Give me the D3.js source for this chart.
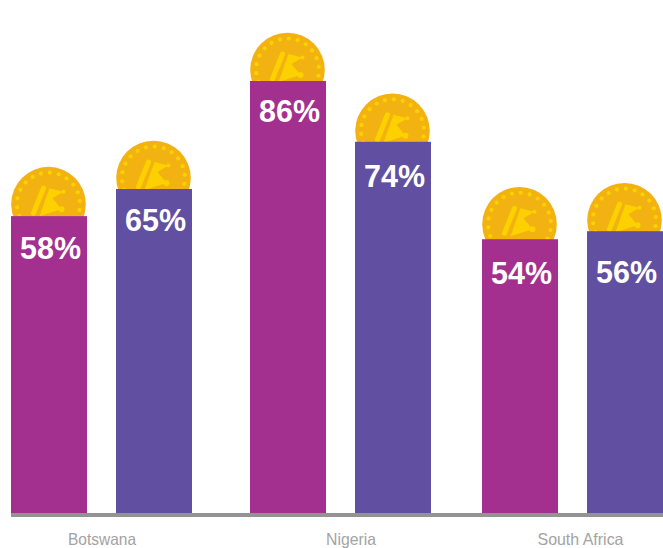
<!DOCTYPE html>
<html>
<head>
<meta charset="utf-8">
<script src="https://cdn.jsdelivr.net/npm/d3@7"></script>
<style>
  html, body { margin: 0; padding: 0; background: #fff; overflow: hidden; }
</style>
</head>
<body>
<div id="chart"></div>
<script>
const countries = ['Botswana', 'Nigeria', 'South Africa']
const series = ['a', 'b']
const labels = [58, 65, 86, 74, 54, 56]
// bar heights as drawn, they are not quite in proportion with the labels
const levels = [59.1, 64.5, 86, 73.9, 54.5, 56.1]
const seriesColors = ['#a3308f', '#6150a1']

// the labels and coins do not sit at the same distance from each bar top
const labelOffsets = [43, 42, 41, 45, 45, 52]
const coinLifts = [12, 11, 11, 11, 15, 11]
const labelWidths = [68, 50, 86]

const width = 663
const height = 548
const barWidth = 76
const baseline = 513
const coinR = 37.3
const dotCount = 22
const gold = '#fdd000'

const rows = labels.map((label, i) => ({
  country: countries[Math.floor(i / 2)],
  serie: series[i % 2],
  label,
  level: levels[i],
  labelOffset: labelOffsets[i],
  coinLift: coinLifts[i]
}))

const x0 = d3.scaleOrdinal(countries, [11, 250, 482])
const x1 = d3.scaleOrdinal(series, [0, 105])
const xLabel = d3.scaleOrdinal(countries, [101.5, 350.5, 580])
const y = d3.scaleLinear().domain([0, 86]).range([baseline, 81])
const color = d3.scaleOrdinal(series, seriesColors)

const svg = d3.select('#chart')
  .append('svg')
  .attr('width', width)
  .attr('height', height)
  .style('display', 'block')

const g = svg.selectAll('g.bar')
  .data(rows)
  .enter()
  .append('g')
  .attr('class', 'bar')
  .attr('transform', d => `translate(${x0(d.country) + x1(d.serie)}, 0)`)

const coin = g.append('g')
  .attr('transform', d => `translate(${barWidth / 2 - 0.5}, ${y(d.level) - d.coinLift})`)

coin.append('circle')
  .attr('r', coinR)
  .attr('fill', '#f2b211')

coin.selectAll('circle.dot')
  .data(d3.range(dotCount))
  .enter()
  .append('circle')
  .attr('class', 'dot')
  .attr('r', 2.1)
  .attr('cx', i => 31.5 * Math.sin((i + 0.15) / dotCount * 2 * Math.PI))
  .attr('cy', i => -31.5 * Math.cos((i + 0.15) / dotCount * 2 * Math.PI))
  .attr('fill', gold)

coin.append('line')
  .attr('x1', -5).attr('y1', -16)
  .attr('x2', -15).attr('y2', 9)
  .attr('stroke', gold)
  .attr('stroke-width', 5)
  .attr('stroke-linecap', 'round')

coin.append('path')
  .attr('d', 'M1,-16L15,-12.5L4,-6L13,5L-9,12Z')
  .attr('fill', gold)

coin.append('circle').attr('cx', 15).attr('cy', -12.5).attr('r', 2).attr('fill', gold)
coin.append('circle').attr('cx', 13).attr('cy', 5).attr('r', 3).attr('fill', gold)

g.append('rect')
  .attr('x', 0)
  .attr('y', d => y(d.level))
  .attr('width', barWidth)
  .attr('height', d => baseline - y(d.level))
  .attr('fill', d => color(d.serie))

g.append('text')
  .attr('x', barWidth / 2 + 1.5)
  .attr('y', d => y(d.level) + d.labelOffset)
  .attr('text-anchor', 'middle')
  .attr('font-family', 'Liberation Sans, sans-serif')
  .attr('font-weight', 'bold')
  .attr('font-size', '32px')
  .attr('textLength', 61)
  .attr('lengthAdjust', 'spacingAndGlyphs')
  .attr('fill', '#fff')
  .text(d => d.label + '%')

// baseline rule
svg.append('rect')
  .attr('x', 11)
  .attr('y', baseline)
  .attr('width', width - 11)
  .attr('height', 4)
  .attr('fill', '#939393')

const axis = svg.append('g')
  .attr('transform', `translate(0, ${baseline + 4})`)
  .call(d3.axisBottom(xLabel).tickSize(0).tickPadding(0))

axis.select('.domain').remove()
axis.selectAll('text')
  .attr('y', 27.5)
  .attr('dy', 0)
  .attr('font-family', 'Liberation Sans Narrow, Liberation Sans, sans-serif')
  .attr('font-size', '16.5px')
  .attr('textLength', (d, i) => labelWidths[i])
  .attr('lengthAdjust', 'spacingAndGlyphs')
  .attr('fill', '#a3a3a3')
</script>
</body>
</html>
